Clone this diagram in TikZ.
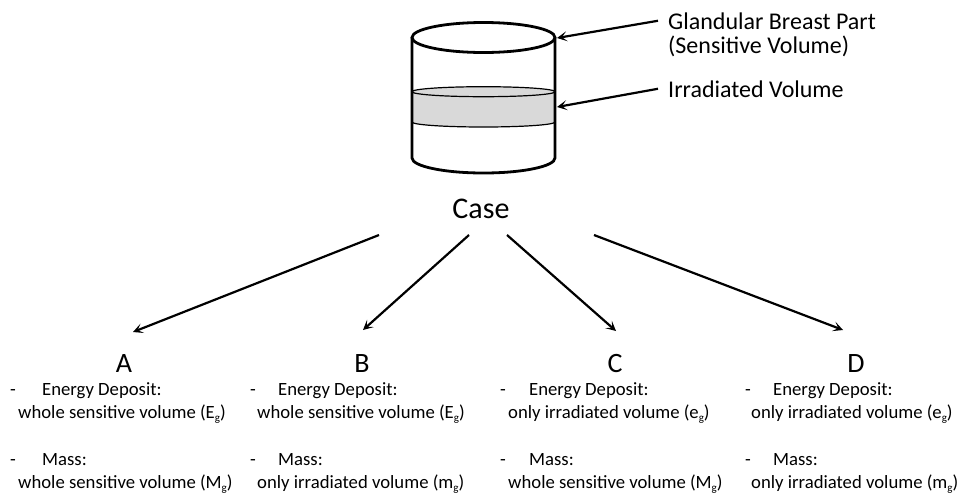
\documentclass[tikz,border=0pt]{standalone}
\usepackage{fontspec}
\setmainfont{Carlito}
\usetikzlibrary{arrows.meta}
\definecolor{bandgray}{HTML}{D9D9D9}
\newcommand\subg{\raisebox{-3.5pt}{\fontsize{11}{11}\selectfont g}}
\tikzset{
  txt/.style={inner sep=0pt, anchor=base west, font=\fontsize{18.7}{22}\selectfont},
  lbl/.style={inner sep=0pt, anchor=base west, font=\fontsize{24}{28}\selectfont},
  casefont/.style={inner sep=0pt, anchor=base, font=\fontsize{30}{34}\selectfont},
  letter/.style={inner sep=0pt, anchor=base, font=\fontsize{28}{30}\selectfont},
  arr/.style={line width=2.2pt, -{Stealth[length=10pt,width=10pt,inset=5pt]}},
  cyl/.style={line width=2.8pt},
}
\begin{document}
\begin{tikzpicture}[x=1pt,y=1pt]
\useasboundingbox (0,0) rectangle (960,-496);

% irradiated band inside the cylinder
\fill[bandgray] (412,-91.7) arc[start angle=180,end angle=0,x radius=71.5,y radius=5]
  -- (555,-122) arc[start angle=0,end angle=-180,x radius=71.5,y radius=5] -- cycle;
\draw[line width=1.2pt] (483.5,-91.7) ellipse[x radius=71.5,y radius=5];
\draw[line width=1.2pt] (555,-122) arc[start angle=0,end angle=-180,x radius=71.5,y radius=5];

% cylinder body and lid
\draw[cyl] (412,-37.5) -- (412,-158) arc[start angle=180,end angle=360,x radius=71.5,y radius=15] -- (555,-37.5);
\draw[cyl] (483.5,-37.5) ellipse[x radius=71.5,y radius=15];

\coordinate (lidedge) at (557,-38);
\coordinate (bandedge) at (557,-107);

% labels on the right
\node[lbl] (gl1) at (668,-29) {Glandular Breast Part};
\node[lbl] (gl2) at (668,-53) {(Sensitive Volume)};
\node[lbl] (irr) at (668,-97) {Irradiated Volume};
\draw[arr] ([xshift=-10pt]gl1.west) -- (lidedge);
\draw[arr] ([xshift=-10pt]irr.west) -- (bandedge);

% case node and branches
\node[casefont] (case) at (481,-218) {Case};
\coordinate (sa) at (379,-235);
\coordinate (sb) at (469,-235);
\coordinate (sc) at (507,-235);
\coordinate (sd) at (594,-235);
\coordinate (ea) at (133,-332);
\coordinate (eb) at (363,-330);
\coordinate (ec) at (616,-331);
\coordinate (ed) at (843,-330);
\draw[arr] (sa) -- (ea);
\draw[arr] (sb) -- (eb);
\draw[arr] (sc) -- (ec);
\draw[arr] (sd) -- (ed);

% case letters
\node[letter] (A) at (124,-372) {A};
\node[letter] (B) at (362,-372) {B};
\node[letter] (C) at (615,-372) {C};
\node[letter] (D) at (856,-372) {D};

% case A
\node[txt] (ad1) at (10,-395) {-};
\node[txt] (ae)  at (42,-395) {Energy Deposit:};
\node[txt] (ae2) at (18,-418) {whole sensitive volume (E\subg)};
\node[txt] (ad2) at (10,-465) {-};
\node[txt] (am)  at (42,-465) {Mass:};
\node[txt] (am2) at (18,-488) {whole sensitive volume (M\subg)};

% case B
\node[txt] (bd1) at (250,-395) {-};
\node[txt] (be)  at (278,-395) {Energy Deposit:};
\node[txt] (be2) at (257,-418) {whole sensitive volume (E\subg)};
\node[txt] (bd2) at (250,-465) {-};
\node[txt] (bm)  at (278,-465) {Mass:};
\node[txt] (bm2) at (257,-488) {only irradiated volume (m\subg)};

% case C
\node[txt] (cd1) at (500,-395) {-};
\node[txt] (ce)  at (529,-395) {Energy Deposit:};
\node[txt] (ce2) at (508,-418) {only irradiated volume (e\subg)};
\node[txt] (cd2) at (500,-465) {-};
\node[txt] (cm)  at (529,-465) {Mass:};
\node[txt] (cm2) at (508,-488) {whole sensitive volume (M\subg)};

% case D
\node[txt] (dd1) at (745,-395) {-};
\node[txt] (de)  at (773,-395) {Energy Deposit:};
\node[txt] (de2) at (751,-418) {only irradiated volume (e\subg)};
\node[txt] (dd2) at (745,-465) {-};
\node[txt] (dm)  at (773,-465) {Mass:};
\node[txt] (dm2) at (751,-488) {only irradiated volume (m\subg)};
\end{tikzpicture}
\end{document}
